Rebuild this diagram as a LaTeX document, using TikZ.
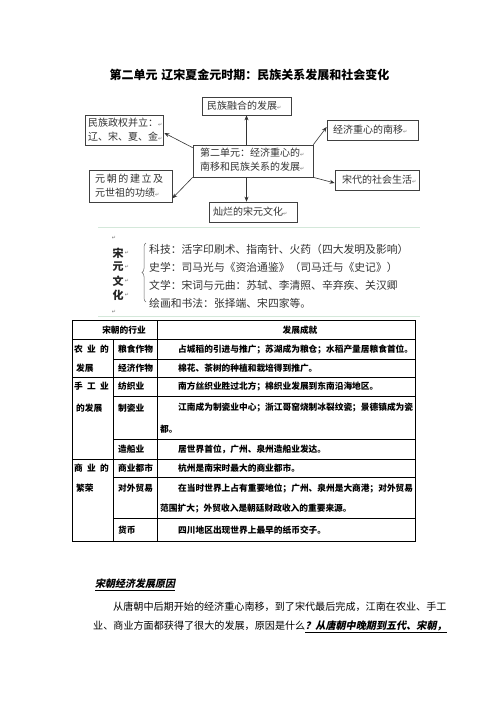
\documentclass[tikz,border=0pt]{standalone}
\usepackage{fontspec}
\setmainfont{Noto Sans CJK SC}
\newfontfamily\dv{DejaVu Sans}
\newfontfamily\cjksl[FakeSlant=0.2]{Noto Sans CJK SC}
\usetikzlibrary{arrows.meta,calc,decorations.pathreplacing}
\newcommand\parmk{{\dv\fontsize{5}{5}\selectfont\color{black!55}↵}}
\begin{document}
\begin{tikzpicture}[x=1pt,y=-1pt,
  box/.style={draw=black!75,line width=0.7pt,inner sep=0pt},
  btxt/.style={anchor=west,inner sep=0pt,font=\fontsize{10}{14}\selectfont,text=black!80,align=left},
  arr/.style={draw=black!80,line width=0.6pt,-{Stealth[length=5pt,width=4pt]}},
  song/.style={anchor=west,inner sep=0pt,font=\fontsize{10.8}{10.8}\selectfont,text=black!80},
  vch/.style={inner sep=0pt,font=\bfseries\fontsize{11}{11}\selectfont,text=black!85},
  cell/.style={anchor=west,inner sep=0pt,font=\bfseries\fontsize{8.7}{8.7}\selectfont},
  tl/.style={line width=0.6pt},
  para/.style={anchor=west,inner sep=0pt,font=\fontsize{10.1}{10.1}\selectfont},
  faint/.style={draw={rgb,255:red,212;green,232;blue,218},line width=0.8pt}]
\fill[white] (0,0) rectangle (496,702);
\useasboundingbox (0,0) rectangle (496,702);

% title
\node[inner sep=0pt,font=\bfseries\fontsize{12}{12}\selectfont] (title) at (249.5,75) {第二单元\hspace{4pt}辽宋夏金元时期：民族关系发展和社会变化};

% diagram boxes
\node[box,minimum width=89pt,minimum height=18pt] (top) at (246.5,106) {};
\node[btxt] (topt) at (207,106) {民族融合的发展\parmk};
\node[box,minimum width=78pt,minimum height=30pt] (lt) at (124,130) {};
\node[btxt] (ltt) at (88,130) {民族政权并立：\parmk\\辽、宋、夏、金\parmk};
\node[box,minimum width=83pt,minimum height=32pt] (lb) at (130.5,186) {};
\node[btxt] (lbt) at (95,186) {元\kern1.6pt朝\kern1.6pt的\kern1.6pt建\kern1.6pt立\kern1.6pt及\\元世祖的功绩\parmk};
\node[box,minimum width=120pt,minimum height=32pt] (c) at (253,161) {};
\node[btxt] (ct) at (200,160) {第二单元：经济重心的\parmk\\南移和民族关系的发展\parmk};
\node[box,minimum width=88pt,minimum height=20pt] (bot) at (253,212) {};
\node[btxt] (bott) at (213,211.5) {灿烂的宋元文化\parmk};
\node[box,minimum width=91pt,minimum height=20pt] (rt) at (372.5,130) {};
\node[btxt] (rtt) at (333,130) {经济重心的南移\parmk};
\node[box,minimum width=84pt,minimum height=20pt] (rb) at (377,180) {};
\node[btxt] (rbt) at (342,180) {宋代的社会生活\parmk};

% arrows
\draw[arr] (c.north -| top.south) -- (top.south);
\draw[arr] (c.south -| top.south) -- (top.south |- bot.north);
\draw[arr] ([yshift=-3pt]c.north west) -- ([xshift=1pt,yshift=-3pt]lt.east);
\draw[arr] (c.south west) -- ([yshift=4pt]lb.south east);
\draw[arr] (c.north east) -- ([yshift=3pt]rt.west);
\draw[arr] (c.south east) -- ([yshift=-3pt]rb.west);

% Song-Yuan culture
\coordinate (f1a) at (98,227); \coordinate (f1b) at (420,227);
\coordinate (f2a) at (98,316); \coordinate (f2b) at (420,316);
\draw[faint] (f1a) -- (f1b);
\draw[faint] (f2a) -- (f2b);
\node[inner sep=0pt] (pm1) at (114,238) {\parmk};
\node[inner sep=0pt] (pm2) at (114,312) {\parmk};
\node[vch] (v1) at (118,253) {宋};
\node[vch] (v2) at (118,267) {元};
\node[vch] (v3) at (118,281) {文};
\node[vch] (v4) at (118,295) {化};
\foreach \i in {1,...,4}{\node[anchor=west,inner sep=0pt] (pv\i) at ([xshift=1pt]v\i.east) {\parmk};}
\coordinate (brb) at (146,302); \coordinate (brt) at (146,243);
\draw[black!60,line width=0.5pt,decorate,decoration={brace,amplitude=4pt}] (brb) -- (brt);
\node[song] (s1) at (149,249) {科技：活字印刷术、指南针、火药（四大发明及影响）};
\node[song] (s2) at (149,267) {史学：司马光与《资治通鉴》（司马迁与《史记》）};
\node[song] (s3) at (149,285) {文学：宋词与元曲：苏轼、李清照、辛弃疾、关汉卿};
\node[song] (s4) at (149,303) {绘画和书法：张择端、宋四家等。};

% table
\draw[tl] (72,320) rectangle (415,541);
\draw[tl] (72,339) -- (415,339);
\draw[tl] (72,377) -- (415,377);
\draw[tl] (72,459) -- (415,459);
\draw[tl] (113,359) -- (415,359);
\draw[tl] (113,396) -- (415,396);
\draw[tl] (113,439) -- (415,439);
\draw[tl] (113,477) -- (415,477);
\draw[tl] (113,518) -- (415,518);
\draw[tl] (113,339) -- (113,541);
\draw[tl] (157,320) -- (157,541);

\node[cell,anchor=center] (h1) at (124,330) {宋朝的行业};
\node[cell,anchor=center] (h2) at (300,330) {发展成就};

\node[cell] (a1) at (74,349) {农\hspace{4.3pt}业\hspace{4.3pt}的};
\node[cell] (a2) at (76,368) {发展};
\node[cell] (a3) at (74,386.5) {手\hspace{4.3pt}工\hspace{4.3pt}业};
\node[cell] (a4) at (76,408) {的发展};
\node[cell] (a5) at (74,468) {商\hspace{4.3pt}业\hspace{4.3pt}的};
\node[cell] (a6) at (76,488) {繁荣};

\node[cell] (b1) at (118,349) {粮食作物};
\node[cell] (b2) at (118,368) {经济作物};
\node[cell] (b3) at (118,386.5) {纺织业};
\node[cell] (b4) at (118,408) {制瓷业};
\node[cell] (b5) at (118,449) {造船业};
\node[cell] (b6) at (118,468) {商业都市};
\node[cell] (b7) at (118,488) {对外贸易};
\node[cell] (b8) at (118,530) {货币};

\node[cell] (d1) at (178,349) {占城稻的引进与推广；苏湖成为粮仓；水稻产量居粮食首位。};
\node[cell] (d2) at (178,368) {棉花、茶树的种植和栽培得到推广。};
\node[cell] (d3) at (178,386.5) {南方丝织业胜过北方；棉织业发展到东南沿海地区。};
\node[cell] (d4) at (178,408) {江南成为制瓷业中心；浙江哥窑烧制冰裂纹瓷；景德镇成为瓷};
\node[cell] (d4b) at (160,429) {都。};
\node[cell] (d5) at (178,449) {居世界首位，广州、泉州造船业发达。};
\node[cell] (d6) at (178,468) {杭州是南宋时最大的商业都市。};
\node[cell] (d7) at (178,488) {在当时世界上占有重要地位；广州、泉州是大商港；对外贸易};
\node[cell] (d7b) at (160,509) {范围扩大；外贸收入是朝廷财政收入的重要来源。};
\node[cell] (d8) at (178,530) {四川地区出现世界上最早的纸币交子。};

% bottom text
\node[para,font=\cjksl\bfseries\fontsize{10}{10}\selectfont] (hd) at (95,585) {\underline{宋朝经济发展原因}};
\node[para] (p1) at (113,607) {从唐朝中后期开始的经济重心南移，到了宋代最后完成，江南在农业、手工};
\node[para] (p2) at (93,627) {业、商业方面都获得了很大的发展，原因是什么{\cjksl\bfseries\underline{？从唐朝中晚期到五代、宋朝，}}};
\end{tikzpicture}
\end{document}
